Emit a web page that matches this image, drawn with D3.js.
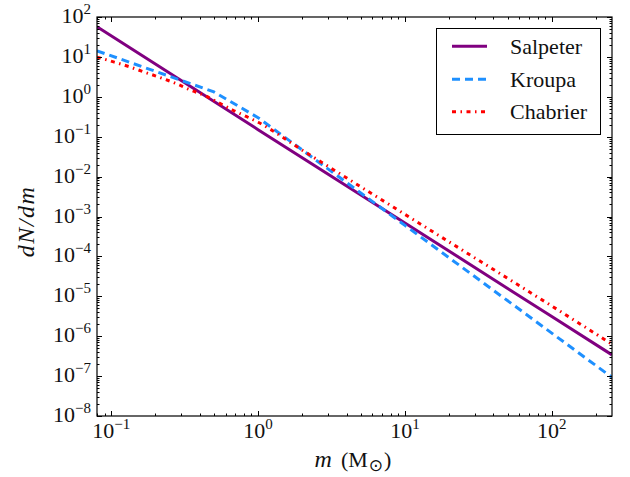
<!DOCTYPE html>
<html>
<head>
<meta charset="utf-8">
<script src="https://cdn.jsdelivr.net/npm/d3@7"></script>
<style>
  html, body { margin: 0; padding: 0; background: #fff; }
</style>
</head>
<body>
<svg id="chart" width="630" height="477"></svg>
<script>
// ---- data ----
const seriesNames = ["Salpeter", "Kroupa", "Chabrier"];
const salpeterM = [0.08, 1, 10, 100, 257];
const salpeterN = [56.8, 0.15, 6.9e-4, 3.1e-6, 3.4e-7];
const kroupaM = [0.08, 0.5, 1, 10, 257];
const kroupaN = [14.2, 1.33, 0.30, 6.0e-4, 9.3e-8];
const chabrierM = [0.08, 0.105, 0.133, 0.168, 0.215, 0.272, 0.344, 0.436, 0.545, 0.679, 0.859, 1, 2, 10, 100, 257];
const chabrierN = [9.9, 7.4, 5.65, 4.16, 3.05, 2.2, 1.5, 1.06, 0.695, 0.454, 0.303, 0.23, 0.046, 1.13e-3, 5.7e-6, 6.3e-7];
const xMajorExp = [-1, 0, 1, 2];
const yMajorExp = [-8, -7, -6, -5, -4, -3, -2, -1, 0, 1, 2];
const xDomain = [0.08, 257];
const yDomain = [1e-8, 1e2];

const FONT = "'Liberation Serif', 'Times New Roman', Times, serif";

// ---- layout ----
const L = 97, R = 612, T = 17, B = 416;
const svg = d3.select("#chart");
svg.append("rect").attr("width", 630).attr("height", 477).attr("fill", "#fff");

const x = d3.scaleLog().domain(xDomain).range([L, R]);
const y = d3.scaleLog().domain(yDomain).range([B, T]);

svg.append("clipPath").attr("id", "clip")
  .append("rect").attr("x", L).attr("y", T).attr("width", R - L).attr("height", B - T);

const styles = [
  { color: "#800080", width: 3, dash: null, curve: d3.curveLinear },
  { color: "#1E90FF", width: 3, dash: "8,5", curve: d3.curveLinear },
  { color: "#FF0000", width: 3, dash: "4,4.5,1.5,4.5", curve: d3.curveMonotoneX }
];
const seriesData = [
  salpeterM.map((m, i) => [m, salpeterN[i]]),
  kroupaM.map((m, i) => [m, kroupaN[i]]),
  chabrierM.map((m, i) => [m, chabrierN[i]])
];

const gLines = svg.append("g").attr("clip-path", "url(#clip)");
seriesData.forEach((d, i) => {
  const line = d3.line().x(p => x(p[0])).y(p => y(p[1])).curve(styles[i].curve);
  gLines.append("path").datum(d)
    .attr("d", line)
    .attr("fill", "none")
    .attr("stroke", styles[i].color)
    .attr("stroke-width", styles[i].width)
    .attr("stroke-dasharray", styles[i].dash);
});

// ---- ticks ----
const xMinor = [];
for (let e = -2; e <= 2; e++) for (let k = 2; k <= 9; k++) {
  const v = k * Math.pow(10, e);
  if (v >= xDomain[0] && v <= xDomain[1]) xMinor.push(v);
}
const yMinor = [];
for (let e = -8; e <= 1; e++) for (let k = 2; k <= 9; k++) yMinor.push(k * Math.pow(10, e));

const majLen = 5, minLen = 2.5;
const gT = svg.append("g").attr("stroke", "#000").attr("stroke-width", 1);
function xtick(v, len) {
  const px = Math.round(x(v)) + 0.5;
  gT.append("line").attr("x1", px).attr("x2", px).attr("y1", B).attr("y2", B - len);
  gT.append("line").attr("x1", px).attr("x2", px).attr("y1", T).attr("y2", T + len);
}
function ytick(v, len) {
  const py = Math.round(y(v)) + 0.5;
  gT.append("line").attr("x1", L).attr("x2", L + len).attr("y1", py).attr("y2", py);
  gT.append("line").attr("x1", R).attr("x2", R - len).attr("y1", py).attr("y2", py);
}
xMajorExp.forEach(e => xtick(Math.pow(10, e), majLen));
xMinor.forEach(v => xtick(v, minLen));
yMajorExp.forEach(e => ytick(Math.pow(10, e), majLen));
yMinor.forEach(v => ytick(v, minLen));

// frame
svg.append("rect").attr("x", L).attr("y", T).attr("width", R - L).attr("height", B - T)
  .attr("fill", "none").attr("stroke", "#000").attr("stroke-width", 1.2);

// ---- tick labels ----
function expLabel(sel, e) {
  sel.append("tspan").text("10");
  sel.append("tspan").attr("dy", -9).attr("font-size", 15)
    .text(e < 0 ? "\u2212" + Math.abs(e) : String(e));
}
function txt(xp, yp, size) {
  return svg.append("text").attr("x", xp).attr("y", yp)
    .attr("font-family", FONT).attr("font-size", size).attr("fill", "#111");
}
yMajorExp.forEach(e => {
  const t = txt(91, y(Math.pow(10, e)) + 6, 22).attr("text-anchor", "end");
  expLabel(t, e);
});
xMajorExp.forEach(e => {
  const t = txt(x(Math.pow(10, e)), 438, 22).attr("text-anchor", "middle");
  expLabel(t, e);
});

// ---- axis titles ----
const xl = txt(353, 467, 22).attr("text-anchor", "middle");
xl.append("tspan").attr("font-style", "italic").attr("font-size", 24).text("m");
xl.append("tspan").attr("dx", 9).text("(M");
xl.append("tspan").attr("font-size", 17).attr("dy", 4).attr("dx", 1).attr("font-family", "DejaVu Sans").text("\u2299");
xl.append("tspan").attr("dy", -4).attr("dx", 1).text(")");

svg.append("text").attr("transform", `translate(34,${(T + B) / 2 + 5}) rotate(-90)`)
  .attr("font-family", FONT).attr("fill", "#111")
  .attr("text-anchor", "middle").attr("font-size", 24).attr("font-style", "italic")
  .attr("letter-spacing", 1.5)
  .text("dN/dm");

// ---- legend ----
const lg = svg.append("g");
lg.append("rect").attr("x", 436.5).attr("y", 28.5).attr("width", 164).attr("height", 106)
  .attr("fill", "#fff").attr("stroke", "#000").attr("stroke-width", 1);
const legY = [46.3, 79.3, 111.7];
seriesNames.forEach((name, i) => {
  lg.append("line").attr("x1", 452).attr("x2", 487).attr("y1", legY[i]).attr("y2", legY[i])
    .attr("stroke", styles[i].color).attr("stroke-width", styles[i].width)
    .attr("stroke-dasharray", styles[i].dash);
  lg.append("text").attr("x", 510).attr("y", legY[i] + 7.5)
    .attr("font-family", FONT).attr("fill", "#111")
    .attr("font-size", 22).text(name);
});
</script>
</body>
</html>
